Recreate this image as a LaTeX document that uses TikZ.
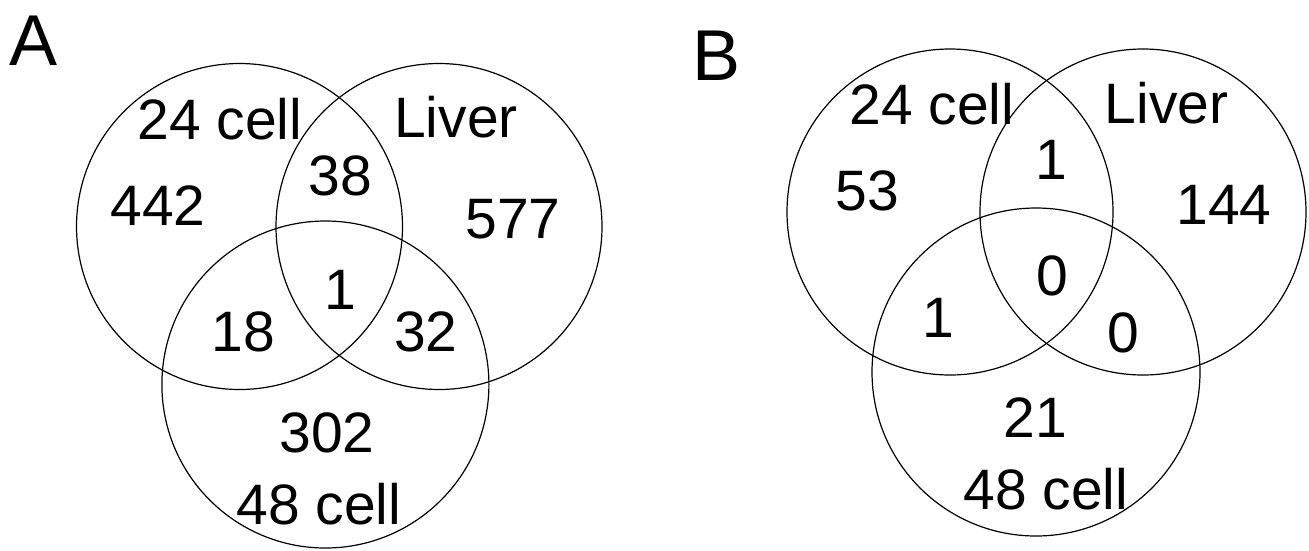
\documentclass[tikz,border=0pt]{standalone}
\usepackage{fontspec}
\setmainfont{Liberation Sans}
\begin{document}
\begin{tikzpicture}[x=1pt,y=-1pt,
  venn/.style={draw=black,line width=1.2pt,circle,inner sep=0pt,minimum size=#1},
  lbl/.style={inner sep=0pt,anchor=base,font=\fontsize{57}{60}\selectfont},
  panel/.style={inner sep=0pt,anchor=base,font=\fontsize{72}{76}\selectfont}]
\useasboundingbox (0,0) rectangle (1309,550);
% Panel A
\node[venn=326pt] (aL) at (239.5,226.5) {};
\node[venn=326pt] (aR) at (439,226.5) {};
\node[venn=327pt] (aB) at (325.4,384.5) {};
\node[panel] (pA) at (33.5,65) {A};
\node[lbl] (a24) at (220,139) {24 cell};
\node[lbl] (aliv) at (456,137.5) {Liver};
\node[lbl] (a38) at (340.5,195) {38};
\node[lbl] (a442) at (158,225) {442};
\node[lbl] (a577) at (513,238.6) {577};
\node[lbl] (a1) at (340.5,309) {1};
\node[lbl] (a18) at (243.3,351.5) {18};
\node[lbl] (a32) at (426,351.5) {32};
\node[lbl] (a302) at (327,452.6) {302};
\node[lbl] (a48) at (319,524) {48 cell};
% Panel B
\node[venn=326pt] (bL) at (950,212) {};
\node[venn=326pt] (bR) at (1143,212) {};
\node[venn=328pt] (bB) at (1036,372) {};
\node[panel] (pB) at (717,80.7) {B};
\node[lbl] (b24) at (932,124.6) {24 cell};
\node[lbl] (bliv) at (1166.6,123) {Liver};
\node[lbl] (b1t) at (1051.5,179) {1};
\node[lbl] (b53) at (867.5,210.5) {53};
\node[lbl] (b144) at (1224,224.6) {144};
\node[lbl] (b0c) at (1052,295) {0};
\node[lbl] (b1l) at (938,337) {1};
\node[lbl] (b0r) at (1123,352.6) {0};
\node[lbl] (b21) at (1035,437.7) {21};
\node[lbl] (b48) at (1046,509) {48 cell};
\end{tikzpicture}
\end{document}
